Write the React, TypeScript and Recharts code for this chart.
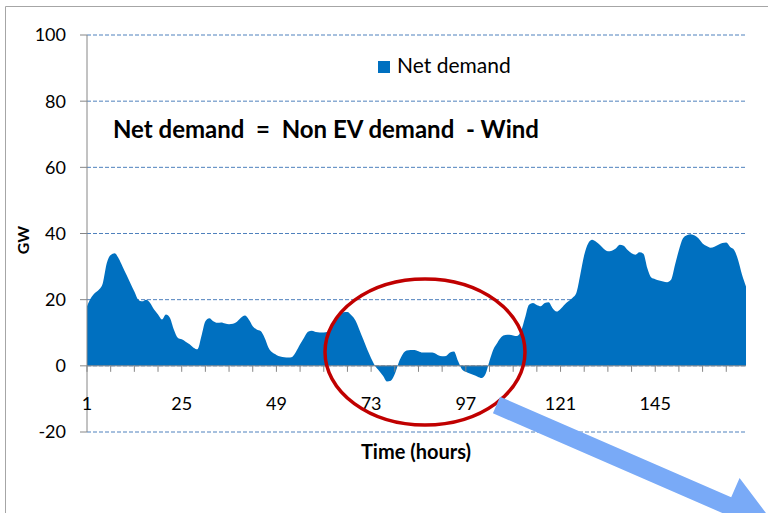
import {
  Area,
  AreaChart,
  CartesianGrid,
  ReferenceLine,
  XAxis,
  YAxis,
} from "recharts";

// hourly net demand in GW, hours 1..168
const netDemand = [
  18, 20.5, 22, 23, 25, 31, 33.5, 34, 32.5, 30,
  27.5, 25, 22.5, 20, 19.5, 20, 19, 17, 15.5, 14,
  15.5, 14.5, 11, 8.5, 8, 7.3, 6.5, 5.5, 5, 9,
  13.5, 14.4, 13.5, 13, 13.1, 12.8, 12.6, 12.7, 13.3, 14.5,
  15.2, 14, 12, 11, 10.5, 8.5, 5.5, 4, 3.3, 2.8,
  2.6, 2.5, 2.7, 4.3, 6.5, 8.5, 10.3, 10.6, 10.2, 10.1,
  10.1, 10.3, 12.5, 14, 15, 16.2, 16.3, 15.3, 13.8, 11,
  8, 5, 2.3, 0, -1.5, -3, -4.7, -4.5, -2.5, 1,
  3.5, 4.6, 4.8, 4.8, 4.4, 4, 4, 4, 3.9, 3.2,
  2.9, 3, 4, 4.3, 1.5, -1, -1.8, -2.3, -2.8, -3.3,
  -3.7, -2.5, 1.5, 5, 7, 8.7, 9.3, 9.4, 9.2, 9,
  10.5, 14.5, 18.5, 19, 18.4, 18, 19, 19.2, 17.4, 16.4,
  17.2, 18.5, 19.5, 20.5, 22, 27.5, 33.5, 37, 38.1, 37.5,
  36.5, 35.3, 34.6, 34.8, 35.5, 36.6, 36.3, 35, 34, 33.6,
  34.3, 33.9, 29.5, 26.7, 26.2, 25.8, 25.5, 25.3, 26, 30.5,
  35, 38.5, 39.5, 39.8, 39.4, 38.5, 37, 36.2, 35.7, 36,
  36.6, 37.1, 37.3, 35.9, 35, 32, 27.5, 24,
];

const xTickMarks = [1, 7, 13, 19, 25, 31, 37, 43, 49, 55, 61, 67, 73, 79, 85, 91, 97, 103, 109, 115, 121, 127, 133, 139, 145, 151, 157, 163];
const xTickLabels = [1, 25, 49, 73, 97, 121, 145];
const yTicks = [-20, 0, 20, 40, 60, 80, 100];

const chartData = netDemand.map((v, i) => ({ hour: i + 1, net: v }));

const W = 768;
const H = 513;
const PLOT_TOP = 35;
const PLOT_BOTTOM = 432;
const ZERO_Y = PLOT_TOP + (100 / 120) * (PLOT_BOTTOM - PLOT_TOP);
const FONT = "Lato, 'Liberation Sans', sans-serif";
const BLUE = "#0070c0";

function HourTick(props: any) {
  const { x, payload } = props;
  const labelled = xTickLabels.includes(payload.value);
  return (
    <g>
      <line x1={x} x2={x} y1={ZERO_Y} y2={ZERO_Y + 6} stroke="#868686" />
      {labelled && (
        <text
          x={x}
          y={410}
          textAnchor="middle"
          fontSize={18}
          fontFamily={FONT}
          fill="#000"
        >
          {payload.value}
        </text>
      )}
    </g>
  );
}

export default function App() {
  return (
    <div
      style={{
        position: "absolute",
        left: 0,
        top: 0,
        width: W,
        height: H,
        background: "#fff",
        overflow: "hidden",
      }}
    >
      <AreaChart
        width={W}
        height={H}
        data={chartData}
        margin={{ top: PLOT_TOP, right: 22, bottom: H - PLOT_BOTTOM - 30, left: 27 }}
      >
        <CartesianGrid
          vertical={false}
          stroke="#4f81bd"
          strokeDasharray="4 2"
        />
        <XAxis
          dataKey="hour"
          type="number"
          domain={[1, 168]}
          ticks={xTickMarks}
          interval={0}
          height={30}
          axisLine={false}
          tickLine={false}
          tick={<HourTick />}
        />
        <YAxis
          domain={[-20, 100]}
          ticks={yTicks}
          width={60}
          interval={0}
          axisLine={{ stroke: "#868686" }}
          tickLine={{ stroke: "#868686" }}
          tickSize={7}
          tickMargin={14}
          tick={{ fontSize: 18, fill: "#000", fontFamily: FONT }}
        />
        <ReferenceLine y={0} stroke="#868686" strokeWidth={1} />
        <Area
          dataKey="net"
          type="monotone"
          stroke="none"
          fill={BLUE}
          fillOpacity={1}
          isAnimationActive={false}
        />
      </AreaChart>
      <svg
        width={W}
        height={H}
        style={{ position: "absolute", left: 0, top: 0, pointerEvents: "none" }}
      >
        <path d="M5.5 513 L5.5 6.5 L768 6.5" fill="none" stroke="#a6a6a6" />
        {/* legend */}
        <rect x={378} y={61} width={12} height={12} fill={BLUE} />
        <text x={397} y={73} fontSize={21} fontFamily={FONT}>
          Net demand
        </text>
        <text
          x={113}
          y={138}
          fontSize={24}
          fontWeight="bold"
          fontFamily={FONT}
          style={{ whiteSpace: "pre" }}
        >
          {"Net demand  =  Non EV demand  - Wind"}
        </text>
        <text
          x={29}
          y={240}
          fontSize={16}
          fontWeight="bold"
          fontFamily={FONT}
          textAnchor="middle"
          transform="rotate(-90 29 240)"
        >
          GW
        </text>
        <text
          x={416}
          y={459}
          fontSize={20}
          fontWeight="bold"
          fontFamily={FONT}
          textAnchor="middle"
        >
          Time (hours)
        </text>
        <ellipse
          cx={425}
          cy={352}
          rx={100}
          ry={73}
          fill="none"
          stroke="#c00000"
          strokeWidth={3.5}
        />
        <g transform="translate(496.5 405) rotate(23.5)">
          <polygon
            points="0,-9 252,-9 252,-30 305,0 252,30 252,9 0,9"
            fill="#79aaf7"
          />
        </g>
      </svg>
    </div>
  );
}
